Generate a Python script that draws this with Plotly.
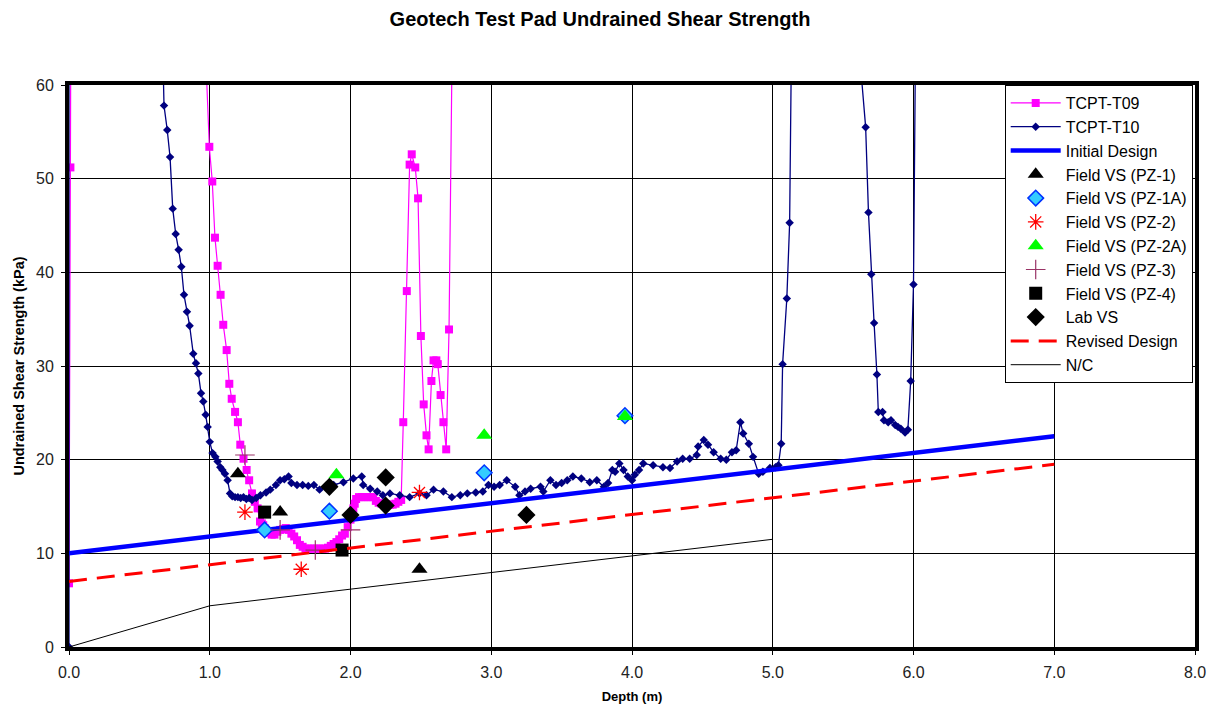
import plotly.graph_objects as go

# ---------------- data ----------------
t09_depth = [0.0, 0.01, 0.015, 0.94, 0.997, 1.018, 1.037, 1.056, 1.077, 1.096, 1.12, 1.139, 1.156, 1.18,
             1.20, 1.217, 1.24, 1.262, 1.28, 1.30, 1.32, 1.34, 1.357, 1.37, 1.38, 1.39, 1.40, 1.42, 1.44,
             1.46, 1.48, 1.50, 1.52, 1.54, 1.56, 1.58, 1.60, 1.62, 1.64, 1.66, 1.68, 1.70, 1.72, 1.74,
             1.76, 1.78, 1.80, 1.82, 1.84, 1.86, 1.88, 1.90, 1.92, 1.94, 1.96, 1.98, 2.00, 2.01, 2.02,
             2.03, 2.04, 2.06, 2.08, 2.10, 2.12, 2.14, 2.16, 2.18, 2.20, 2.22, 2.24, 2.26, 2.28, 2.30,
             2.32, 2.34, 2.36, 2.375, 2.40, 2.42, 2.435, 2.46, 2.48, 2.50, 2.52, 2.54, 2.555,
             2.575, 2.59, 2.61, 2.62, 2.64, 2.66, 2.68, 2.70, 2.73]
t09_su = [6.8, 51.2, 75, 75, 53.4, 49.7, 43.7, 40.7, 37.6, 34.4, 31.7, 28.1, 26.5, 25.1,
          24.0, 21.6, 20.1, 18.9, 17.8, 16.4, 15.5, 14.8, 13.4, 13.2, 13.0, 12.7, 12.5, 12.2, 12.0,
          12.0, 12.3, 12.5, 12.6, 12.7, 12.5, 12.1, 11.8, 11.4, 10.9, 10.7, 10.5, 10.5, 10.5, 10.5,
          10.5, 10.5, 10.5, 10.5, 10.6, 10.8, 11.0, 11.2, 11.5, 11.9, 12.1, 12.8, 13.6, 14.3, 14.8,
          15.3, 15.8, 16.0, 16.0, 16.0, 16.0, 16.0, 16.0, 15.6, 15.4, 15.3, 15.3, 15.2, 15.2, 15.2,
          15.3, 15.5, 15.7, 24.0, 38.0, 51.5, 52.6, 51.2, 47.9, 33.2, 25.9, 22.6, 21.1,
          28.4, 30.6, 30.6, 30.2, 26.9, 24.0, 21.1, 33.9, 75]

t10_depth = [0.0, 0.0, 0.65, 0.675, 0.698, 0.718, 0.737, 0.758, 0.779, 0.798, 0.817, 0.838, 0.857, 0.883,
             0.902, 0.919, 0.938, 0.954, 0.971, 0.985, 1.0, 1.02, 1.04, 1.056, 1.075, 1.09, 1.108, 1.127,
             1.144, 1.16, 1.18, 1.2, 1.22, 1.24, 1.26, 1.28, 1.30, 1.33, 1.36, 1.40, 1.43, 1.47, 1.50,
             1.53, 1.56, 1.58, 1.62, 1.66, 1.70, 1.74, 1.78, 1.83, 1.88, 1.95, 2.02, 2.08, 2.09, 2.14,
             2.19, 2.23, 2.28, 2.35, 2.42, 2.49, 2.54, 2.59, 2.66, 2.72, 2.78, 2.83, 2.89, 2.94, 2.98,
             3.02, 3.06, 3.11, 3.17, 3.20, 3.24, 3.28, 3.35, 3.37, 3.42, 3.46, 3.50, 3.54, 3.58, 3.64,
             3.70, 3.75, 3.80, 3.83, 3.86, 3.88, 3.91, 3.94, 3.97, 4.00, 4.02, 4.05, 4.08, 4.15, 4.22,
             4.27, 4.32, 4.36, 4.41, 4.46, 4.47, 4.51, 4.54, 4.58, 4.63, 4.67, 4.71, 4.74, 4.77, 4.79,
             4.83, 4.86, 4.90, 4.93, 4.98, 5.02, 5.04, 5.06, 5.07, 5.10, 5.12, 5.14, 5.61, 5.63, 5.66,
             5.68, 5.70, 5.72, 5.74, 5.75, 5.78, 5.79, 5.82, 5.84, 5.87, 5.89, 5.91, 5.94, 5.96, 5.98,
             6.00, 6.02]
t10_su = [0.0, 75, 75, 57.8, 55.2, 52.3, 46.8, 44.1, 42.4, 40.6, 37.6, 35.8, 34.3, 31.3,
          30.3, 29.2, 27.1, 26.2, 24.8, 23.5, 21.9, 20.7, 20.3, 19.8, 19.2, 18.9, 18.5, 17.8,
          16.4, 16.1, 16.0, 16.0, 15.9, 16.0, 15.8, 15.9, 15.7, 15.9, 16.2, 16.5, 16.8, 17.3, 17.8,
          17.9, 18.2, 17.5, 17.3, 17.3, 17.2, 17.3, 16.8, 17.1, 17.3, 17.6, 18.0, 18.2, 17.3, 16.9,
          16.6, 16.2, 16.4, 16.2, 16.0, 16.4, 16.2, 16.8, 16.6, 16.0, 16.2, 16.4, 16.5, 16.6, 17.3,
          17.1, 17.3, 17.8, 17.1, 16.2, 16.6, 16.9, 17.1, 16.6, 17.8, 17.3, 17.5, 17.8, 18.2, 18.0,
          17.6, 17.8, 17.1, 17.5, 18.9, 18.7, 19.6, 18.9, 18.2, 17.8, 18.4, 18.9, 19.6, 19.4, 19.2,
          19.1, 19.8, 20.1, 20.1, 20.5, 21.4, 22.1, 21.6, 20.8, 20.1, 20.0, 20.8, 21.0, 24.0, 22.8,
          21.7, 20.3, 18.5, 18.7, 19.1, 19.2, 19.4, 21.7, 30.2, 37.2, 45.3, 75, 75, 60.9, 55.5,
          46.4, 39.8, 34.6, 29.1, 25.1, 25.1, 24.2, 24.0, 24.2, 23.7, 23.5, 23.3, 22.9, 23.2, 28.4,
          38.7, 75]

initial_depth = [0.0, 7.0]
initial_su = [10.0, 22.5]

revised_depth = [0.0, 7.0]
revised_su = [7.0, 19.5]

nc_depth = [0.0, 1.0, 5.0]
nc_su = [0.0, 4.4, 11.5]

pz1_depth = [1.20, 1.50, 2.49]
pz1_su = [18.5, 14.4, 8.3]

pz1a_depth = [1.39, 1.85, 2.95, 3.95]
pz1a_su = [12.5, 14.5, 18.6, 24.7]

pz2_depth = [1.25, 1.65, 2.49]
pz2_su = [14.4, 8.3, 16.5]

pz2a_depth = [1.90, 2.95, 3.95]
pz2a_su = [18.4, 22.6, 24.6]

pz3_depth = [1.25, 1.50, 1.75, 2.00]
pz3_su = [20.5, 12.5, 10.35, 12.5]

pz4_depth = [1.39, 1.94]
pz4_su = [14.4, 10.35]

lab_depth = [1.85, 2.00, 2.25, 2.25, 3.25]
lab_su = [17.1, 14.1, 18.1, 15.1, 14.1]

x_ticks = [0, 1, 2, 3, 4, 5, 6, 7, 8]
x_labels = ["0.0", "1.0", "2.0", "3.0", "4.0", "5.0", "6.0", "7.0", "8.0"]
y_ticks = [0, 10, 20, 30, 40, 50, 60]

# ---------------- figure ----------------
FONT = "Liberation Sans, Arial, sans-serif"
fig = go.Figure()

fig.add_trace(go.Scatter(x=t09_depth, y=t09_su, name="TCPT-T09", mode="lines+markers",
                         line=dict(color="#FF00FF", width=1.2),
                         marker=dict(symbol="square", size=8, color="#FF00FF")))
fig.add_trace(go.Scatter(x=t10_depth, y=t10_su, name="TCPT-T10", mode="lines+markers",
                         line=dict(color="#000080", width=1.3),
                         marker=dict(symbol="diamond", size=6.5, color="#000080")))
fig.add_trace(go.Scatter(x=initial_depth, y=initial_su, name="Initial Design", mode="lines",
                         line=dict(color="#0000FF", width=4.5)))
fig.add_trace(go.Scatter(x=pz1_depth, y=pz1_su, name="Field VS (PZ-1)", mode="markers",
                         marker=dict(symbol="triangle-up", size=14, color="black")))
fig.add_trace(go.Scatter(x=pz1a_depth, y=pz1a_su, name="Field VS (PZ-1A)", mode="markers",
                         marker=dict(symbol="diamond", size=12, color="#33CCFF",
                                     line=dict(color="#0033FF", width=1.5))))
fig.add_trace(go.Scatter(x=pz2_depth, y=pz2_su, name="Field VS (PZ-2)", mode="markers",
                         marker=dict(symbol="asterisk-open", size=13, color="#FF0000",
                                     line=dict(color="#FF0000", width=1.3))))
fig.add_trace(go.Scatter(x=pz2a_depth, y=pz2a_su, name="Field VS (PZ-2A)", mode="markers",
                         marker=dict(symbol="triangle-up", size=14, color="#00FF00")))
fig.add_trace(go.Scatter(x=pz3_depth, y=pz3_su, name="Field VS (PZ-3)", mode="markers",
                         marker=dict(symbol="cross-thin-open", size=14, color="#993366",
                                     line=dict(color="#993366", width=1.2))))
fig.add_trace(go.Scatter(x=pz4_depth, y=pz4_su, name="Field VS (PZ-4)", mode="markers",
                         marker=dict(symbol="square", size=13, color="black")))
fig.add_trace(go.Scatter(x=lab_depth, y=lab_su, name="Lab VS", mode="markers",
                         marker=dict(symbol="diamond", size=14, color="black")))
fig.add_trace(go.Scatter(x=revised_depth, y=revised_su, name="Revised Design", mode="lines",
                         line=dict(color="#FF0000", width=3, dash="18px,10px")))
fig.add_trace(go.Scatter(x=nc_depth, y=nc_su, name="N/C", mode="lines",
                         line=dict(color="black", width=1)))

tick_font = dict(family=FONT, size=16, color="#222222")

fig.update_layout(
    width=1213, height=708,
    paper_bgcolor="white", plot_bgcolor="white",
    margin=dict(l=69, r=18, t=85, b=61),
    title=dict(text="<b>Geotech Test Pad Undrained Shear Strength</b>",
               x=600 / 1213, xanchor="center", y=1 - 19 / 708, yanchor="middle",
               font=dict(family=FONT, size=20, color="black")),
    font=dict(family=FONT, color="black"),
    showlegend=True,
    legend=dict(x=0.831, y=1.0, xanchor="left", yanchor="top",
                bgcolor="white", bordercolor="black", borderwidth=1,
                font=dict(family=FONT, size=16, color="black"),
                tracegroupgap=0, itemwidth=50),
)

fig.update_xaxes(range=[0, 8], tickmode="array", tickvals=x_ticks, ticktext=x_labels,
                 showgrid=True, gridcolor="black", gridwidth=1,
                 showline=True, linecolor="black", linewidth=4, mirror=True,
                 ticks="outside", ticklen=4, tickcolor="black", tickwidth=1,
                 ticklabelstandoff=4, automargin=False,
                 zeroline=False, tickfont=tick_font,
                 title=dict(text="<b>Depth (m)</b>", standoff=13,
                            font=dict(family=FONT, size=13, color="black")))
fig.update_yaxes(range=[0, 60], tickmode="array", tickvals=y_ticks,
                 showgrid=True, gridcolor="black", gridwidth=1,
                 showline=True, linecolor="black", linewidth=4, mirror=True,
                 ticks="outside", ticklen=4, tickcolor="black", tickwidth=1,
                 ticklabelstandoff=4, automargin=False,
                 zeroline=False, tickfont=tick_font,
                 title=dict(text="<b>Undrained Shear Strength (kPa)</b>", standoff=9,
                            font=dict(family=FONT, size=14.5, color="black")))

fig.write_html("out.html", config={"displayModeBar": False},
               post_script="document.body.style.margin='0';")
